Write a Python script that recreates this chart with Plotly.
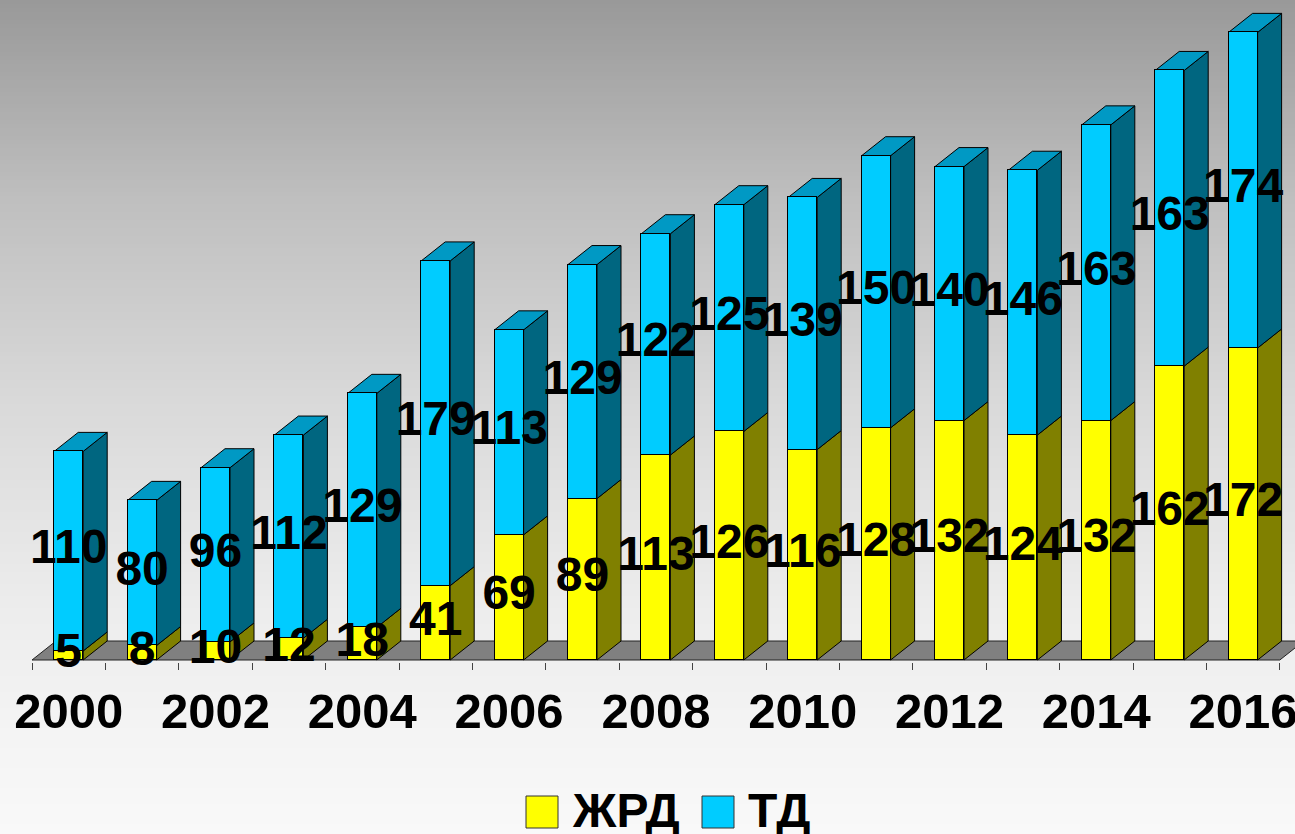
import plotly.graph_objects as go

# ---- data ----
years = list(range(2000, 2017))
zhrd = [5, 8, 10, 12, 18, 41, 69, 89, 113, 126, 116, 128, 132, 124, 132, 162, 172]
td = [110, 80, 96, 112, 129, 179, 113, 129, 122, 125, 139, 150, 140, 146, 163, 163, 174]
tick_years = [2000, 2002, 2004, 2006, 2008, 2010, 2012, 2014, 2016]
series_names = ["ЖРД", "ТД"]

# ---- geometry / style ----
W, H = 1295, 834
cat_px = 73.4
left_px = 32
s = 1.814          # px per unit
plot_bottom = 662
base_px = 660
bw = 29 / cat_px
dxu = 24 / cat_px
dyu = 19 / s

YEL, OLIVE = "#FFFF00", "#808000"
CYAN, TEAL, CTOP = "#00CCFF", "#006680", "#0099C4"
FONT = "Liberation Sans, Arial, sans-serif"

idx = list(range(len(years)))
xrange_ = [-0.5 - left_px / cat_px, -0.5 + (W - left_px) / cat_px]
yrange_ = [-(plot_bottom - base_px) / s, base_px / s]

shapes = []

# background gradient (paper coords)
stops = [(0, 153), (200, 191), (400, 217), (600, 236), (700, 242), (834, 249)]
def gray_at(py):
    for (a, ca), (b, cb) in zip(stops[:-1], stops[1:]):
        if a <= py <= b:
            return ca + (cb - ca) * (py - a) / (b - a)
    return stops[-1][1]
def ppy(py):
    return (plot_bottom - py) / plot_bottom
band = 4
for py in range(0, H, band):
    g = int(round(gray_at(py + band / 2)))
    shapes.append(dict(type="rect", xref="paper", yref="paper", x0=-0.01, x1=1.01,
                       y0=ppy(py + band + 0.5), y1=ppy(py), fillcolor=f"rgb({g},{g},{g})",
                       line=dict(width=0), layer="below"))

# floor
x_lo, x_hi = -0.5, len(years) - 0.5
shapes.append(dict(type="path", xref="x", yref="y", layer="below",
                   path=f"M {x_lo},0 L {x_hi},0 L {x_hi+dxu},{dyu} L {x_lo+dxu},{dyu} Z",
                   fillcolor="#808080", line=dict(color="#222", width=1)))

# 3D side/top faces derived from data
for i, a, b in zip(idx, zhrd, td):
    x0, x1 = i - bw / 2, i + bw / 2
    t = a + b
    shapes.append(dict(type="path", xref="x", yref="y", layer="below",
                       path=f"M {x1},0 L {x1+dxu},{dyu} L {x1+dxu},{a+dyu} L {x1},{a} Z",
                       fillcolor=OLIVE, line=dict(color="black", width=1)))
    shapes.append(dict(type="path", xref="x", yref="y", layer="below",
                       path=f"M {x1},{a} L {x1+dxu},{a+dyu} L {x1+dxu},{t+dyu} L {x1},{t} Z",
                       fillcolor=TEAL, line=dict(color="black", width=1)))
    shapes.append(dict(type="path", xref="x", yref="y", layer="below",
                       path=f"M {x0},{t} L {x0+dxu},{t+dyu} L {x1+dxu},{t+dyu} L {x1},{t} Z",
                       fillcolor=CTOP, line=dict(color="black", width=1)))

fig = go.Figure()
fig.add_trace(go.Bar(x=idx, y=zhrd, width=bw, marker=dict(color=YEL, line=dict(color="black", width=1)),
                     name=series_names[0], showlegend=False, hoverinfo="skip"))
fig.add_trace(go.Bar(x=idx, y=td, width=bw, marker=dict(color=CYAN, line=dict(color="black", width=1)),
                     name=series_names[1], showlegend=False, hoverinfo="skip"))

# value labels
lab_font = dict(family=FONT, size=48, color="black", weight="bold")
fig.add_trace(go.Scatter(x=idx, y=[a / 2 for a in zhrd], text=[str(v) for v in zhrd], mode="text",
                         textposition="middle center", cliponaxis=False, showlegend=False,
                         textfont=lab_font, hoverinfo="skip"))
fig.add_trace(go.Scatter(x=idx, y=[a + b / 2 for a, b in zip(zhrd, td)], text=[str(v) for v in td], mode="text",
                         textposition="middle center", cliponaxis=False, showlegend=False,
                         textfont=lab_font, hoverinfo="skip"))

# custom legend
annotations = []
leg = [(526, series_names[0], YEL, 570), (702, series_names[1], CYAN, 746)]
for sx, name, col, tx in leg:
    shapes.append(dict(type="rect", xref="paper", yref="paper", x0=sx / W, x1=(sx + 32) / W,
                       y0=ppy(828), y1=ppy(796), fillcolor=col, line=dict(color="#333", width=1)))
    annotations.append(dict(xref="paper", yref="paper", x=tx / W, y=ppy(810), xanchor="left", yanchor="middle",
                            text=name, showarrow=False, font=lab_font))

fig.update_layout(
    width=W, height=H, barmode="stack", bargap=0,
    margin=dict(l=0, r=0, t=0, b=H - plot_bottom, autoexpand=False),
    paper_bgcolor="#f8f8f8", plot_bgcolor="rgba(0,0,0,0)",
    shapes=shapes, annotations=annotations, showlegend=False,
    xaxis=dict(range=xrange_, tickmode="array", tickvals=[years.index(y) for y in tick_years],
               ticktext=[str(y) for y in tick_years], ticks="", showgrid=False, zeroline=False,
               showline=False, ticklabeloverflow="allow", ticklabelstandoff=16,
               tickfont=dict(family=FONT, size=49, color="black", weight="bold"),
               minor=dict(tickmode="linear", tick0=-0.5, dtick=1, ticks="outside", ticklen=7,
                          tickcolor="#444", tickwidth=1, showgrid=False)),
    yaxis=dict(range=yrange_, visible=False, showgrid=False, zeroline=False),
)

fig.write_html("out.html", config={"displayModeBar": False},
               post_script="document.body.style.margin='0';document.documentElement.style.overflow='hidden';")
